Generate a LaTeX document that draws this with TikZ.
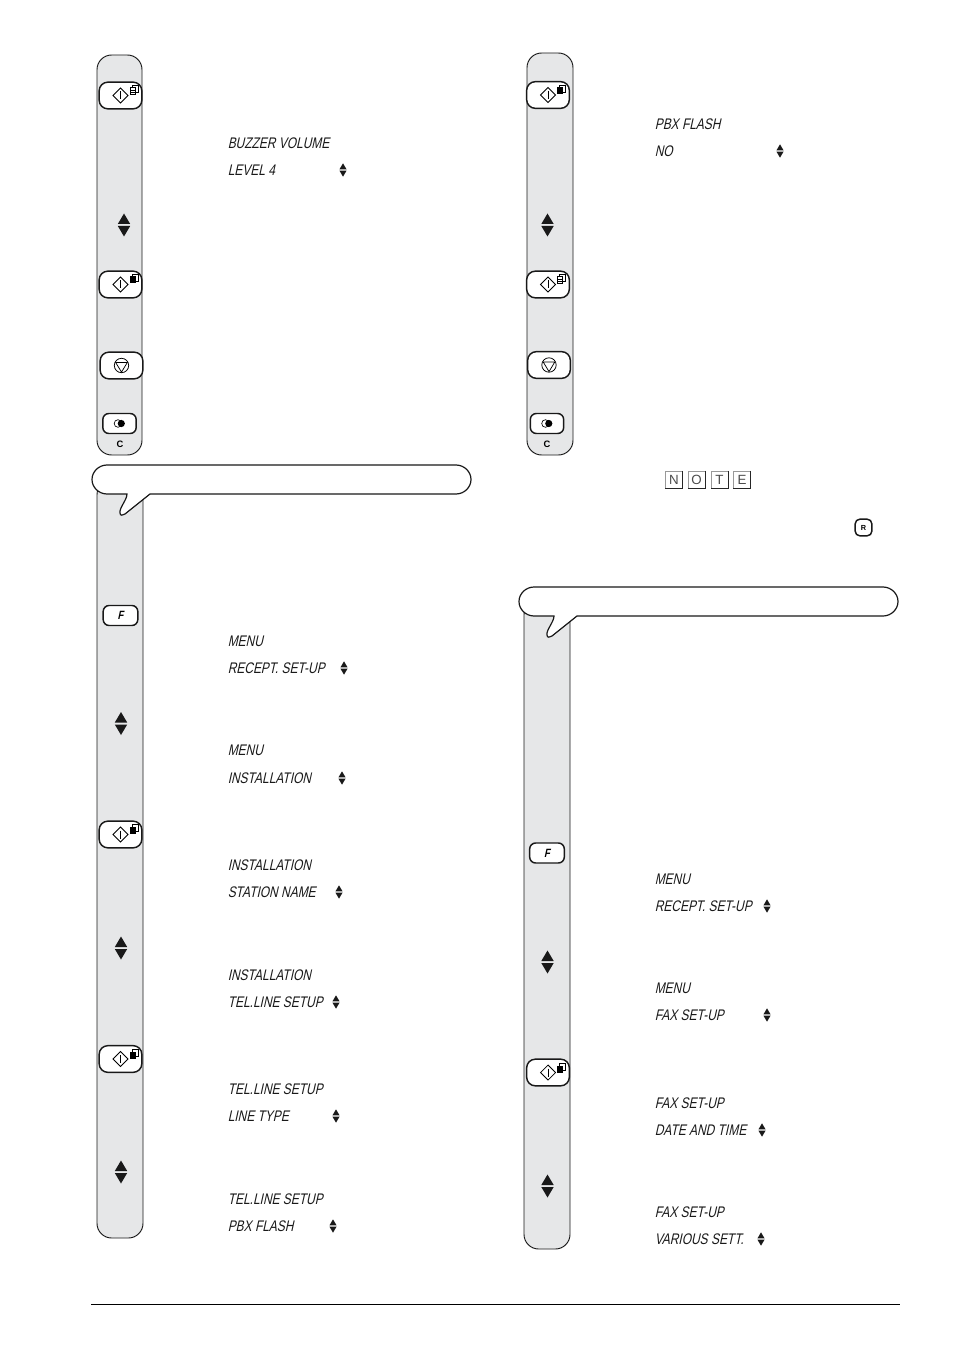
\documentclass[tikz,border=0pt]{standalone}
\usepackage{fontspec}
\setmainfont{Liberation Sans}
\newfontfamily\lcdfont[FakeSlant=0.22,FakeStretch=0.78]{Liberation Sans}
\usetikzlibrary{shapes.geometric}
\definecolor{panelgray}{HTML}{E6E7E8}
\tikzset{
		panel/.style={draw=black!90, line width=.7pt, fill=panelgray, rounded corners=11pt},
		bigkey/.style={draw=black!90, line width=1.1pt, fill=white, rounded corners=6.5pt, minimum width=32pt, minimum height=20pt, inner sep=0pt},
		smallkey/.style={draw=black!90, line width=1.1pt, fill=white, rounded corners=4.5pt, minimum width=25pt, minimum height=15pt, inner sep=0pt},
		lcd/.style={anchor=west, inner sep=0pt, font=\lcdfont\fontsize{11.5}{12}\selectfont, text=black!90},
		notekey/.style={draw=black!40, line width=.5pt, fill=white, minimum width=12.5pt, minimum height=12.5pt, inner sep=0pt, font=\fontsize{10}{10}\selectfont, text=black!70},
		updown/.pic={
				\fill[black!90] (-6.2,-1) -- (6.2,-1) -- (0,-11.5) -- cycle;
				\fill[black!90] (-6.2,1) -- (6.2,1) -- (0,11.5) -- cycle;
			},
		starticon/.pic={
				\draw[line width=.55pt] (-7.5,0) -- (0,-7.5) -- (7.5,0) -- (0,7.5) -- cycle;
				\draw[line width=.55pt] (0,-4) -- (0,4);
			},
		copyicon/.pic={
				\draw[line width=.55pt, fill=white] (-1.5,-4.5) rectangle (4,2);
				\draw[line width=.55pt, fill=white] (-4,-2.5) rectangle (1.5,4.5);
				\draw[line width=.45pt] (-4,0) -- (1.5,0) (-4,2) -- (1.5,2);
			},
		copyblack/.pic={
				\draw[line width=.55pt, fill=white] (-1.5,-4.5) rectangle (4,2);
				\fill[black] (-4,-2.5) rectangle (1.5,4.5);
			},
		stopicon/.pic={
				\draw[line width=.55pt] (0,0) circle (7.2);
				\draw[line width=.55pt] (-5.8,-3) -- (5.8,-3) -- (0,6.6) -- cycle;
			},
		clearicon/.pic={
				\draw[line width=.5pt] (-1.5,0) circle (3.8);
				\fill[black] (1.8,0) circle (3.6);
			},
		bubble/.pic={
				\draw[line width=.9pt, draw=black!90, fill=white] (15,0) -- (364,0)
					.. controls (372,0) and (379,6.5) .. (379,14.5)
					.. controls (379,22.5) and (372,29) .. (364,29)
					-- (58,29) -- (33,49)
					.. controls (31,50.5) and (28,51) .. (28,48)
					.. controls (27,43) and (35,35) .. (35,29)
					-- (15,29)
					.. controls (7,29) and (0,22.5) .. (0,14.5)
					.. controls (0,6.5) and (7,0) .. (15,0) -- cycle;
			}
	}

\begin{document}
\begin{tikzpicture}[x=.75pt,y=-.75pt]
	\useasboundingbox (0,0) rectangle (954,1351);

	% left column, upper strip
	\draw[panel] (97,55) rectangle (142,455);
	\node[bigkey] (startA) at (120.5,95.5) {};
	\pic at (startA) {starticon};
	\pic at (134,90) {copyicon};
	\pic at (124,225) {updown};
	\node[bigkey] (startB) at (120.5,284.5) {};
	\pic at (startB) {starticon};
	\pic at (134,279) {copyblack};
	\node[bigkey] (stopA) at (121.5,365.5) {};
	\pic at (stopA) {stopicon};
	\node[smallkey] (clearA) at (119.5,423.5) {};
	\pic at (clearA) {clearicon};
	\node[font=\bfseries\fontsize{7}{8}\selectfont] (labelA) at (120,444) {C};

	\node[lcd] (buzzer) at (227.5,143) {BUZZER VOLUME};
	\node[lcd] (level)  at (227.5,170) {LEVEL 4};
	\pic[scale=.58] at (343,170) {updown};

	% left column, lower strip
	\draw[panel] (97,480) rectangle (143,1238);
	\pic at (92,465) {bubble};
	\node[smallkey, minimum width=26pt] (funcA) at (120.5,615.5) {\bfseries\lcdfont\fontsize{9}{9}\selectfont F};
	\pic at (121,723.5) {updown};
	\node[bigkey] (startC) at (120.5,834.5) {};
	\pic at (startC) {starticon};
	\pic at (134,829) {copyblack};
	\pic at (121,948) {updown};
	\node[bigkey] (startD) at (120.5,1059) {};
	\pic at (startD) {starticon};
	\pic at (134,1054) {copyblack};
	\pic at (121,1172) {updown};

	\node[lcd] (menuA)   at (227.5,641)  {MENU};
	\node[lcd] (recA)    at (227.5,668)  {RECEPT. SET-UP};
	\pic[scale=.58] at (344,668) {updown};
	\node[lcd] (menuB)   at (227.5,750)  {MENU};
	\node[lcd] (instA)   at (227.5,778)  {INSTALLATION};
	\pic[scale=.58] at (342,778) {updown};
	\node[lcd] (instB)   at (227.5,865)  {INSTALLATION};
	\node[lcd] (station) at (227.5,892)  {STATION NAME};
	\pic[scale=.58] at (339,892) {updown};
	\node[lcd] (instC)   at (227.5,975)  {INSTALLATION};
	\node[lcd] (telA)    at (227.5,1002) {TEL.LINE SETUP};
	\pic[scale=.58] at (336,1002) {updown};
	\node[lcd] (telB)    at (227.5,1089) {TEL.LINE SETUP};
	\node[lcd] (linetype) at (227.5,1116) {LINE TYPE};
	\pic[scale=.58] at (336,1116) {updown};
	\node[lcd] (telC)    at (227.5,1199) {TEL.LINE SETUP};
	\node[lcd] (pbxA)    at (227.5,1226) {PBX FLASH};
	\pic[scale=.58] at (333,1226) {updown};

	% right column, upper strip
	\draw[panel] (527,53) rectangle (573,455);
	\node[bigkey] (startE) at (548,95) {};
	\pic at (startE) {starticon};
	\pic at (561,90) {copyblack};
	\pic at (547.5,225) {updown};
	\node[bigkey] (startF) at (548,284.5) {};
	\pic at (startF) {starticon};
	\pic at (561,279) {copyicon};
	\node[bigkey] (stopB) at (549,365) {};
	\pic at (stopB) {stopicon};
	\node[smallkey] (clearB) at (547,423.5) {};
	\pic at (clearB) {clearicon};
	\node[font=\bfseries\fontsize{7}{8}\selectfont] (labelB) at (547,444) {C};

	\node[lcd] (pbxB) at (654.5,124) {PBX FLASH};
	\node[lcd] (no)   at (654.5,151) {NO};
	\pic[scale=.58] at (780,151) {updown};

	% note keys
	\foreach \letter/\xpos in {N/674,O/696.5,T/719.5,E/742} {
		\node[notekey] (note\letter) at (\xpos,479.5) {\letter};
		\draw[black!85, line width=1pt] (note\letter.north east) -- (note\letter.south east) -- (note\letter.south west);
	}
	\node[smallkey, minimum width=12.5pt, minimum height=12.5pt, rounded corners=3.5pt, font=\bfseries\fontsize{5.5}{6}\selectfont] (recall) at (863.5,527.5) {R};

	% right column, lower strip
	\draw[panel] (524,600) rectangle (570,1249);
	\pic at (519,587) {bubble};
	\node[smallkey, minimum width=26pt] (funcB) at (547,853) {\bfseries\lcdfont\fontsize{9}{9}\selectfont F};
	\pic at (547.5,962) {updown};
	\node[bigkey] (startG) at (548,1072.5) {};
	\pic at (startG) {starticon};
	\pic at (561,1068) {copyblack};
	\pic at (547.5,1186) {updown};

	\node[lcd] (menuC)   at (654.5,879)  {MENU};
	\node[lcd] (recB)    at (654.5,906)  {RECEPT. SET-UP};
	\pic[scale=.58] at (767,906) {updown};
	\node[lcd] (menuD)   at (654.5,988)  {MENU};
	\node[lcd] (faxA)    at (654.5,1015) {FAX SET-UP};
	\pic[scale=.58] at (767,1015) {updown};
	\node[lcd] (faxB)    at (654.5,1103) {FAX SET-UP};
	\node[lcd] (datetime) at (654.5,1130) {DATE AND TIME};
	\pic[scale=.58] at (762,1130) {updown};
	\node[lcd] (faxC)    at (654.5,1212) {FAX SET-UP};
	\node[lcd] (various) at (654.5,1239) {VARIOUS SETT.};
	\pic[scale=.58] at (761,1239) {updown};

	% foot rule
	\coordinate (footL) at (91,1304.5);
	\coordinate (footR) at (900,1304.5);
	\draw[line width=.6pt] (footL) -- (footR);
\end{tikzpicture}
\end{document}
